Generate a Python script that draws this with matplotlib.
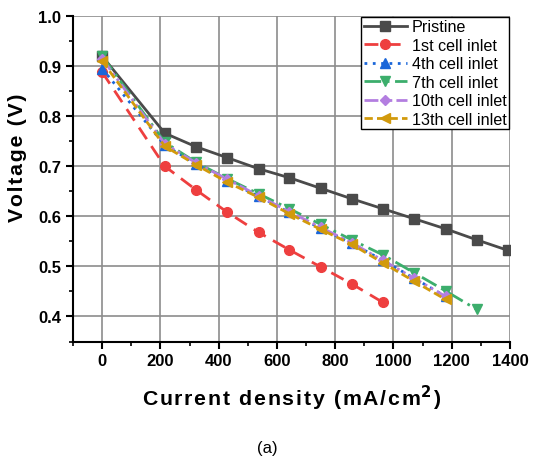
import matplotlib
matplotlib.use("Agg")
import matplotlib.pyplot as plt
from matplotlib.ticker import MultipleLocator

plt.rcParams['font.family'] = ['Liberation Sans', 'DejaVu Sans']

current_pristine = [0, 215, 322, 430, 537, 643, 750, 857, 964, 1072, 1179, 1286, 1393]
v_pristine = [0.92, 0.766, 0.739, 0.717, 0.695, 0.677, 0.656, 0.635, 0.615, 0.595, 0.575, 0.553, 0.532]

current_1st = [0, 215, 322, 430, 537, 643, 750, 857, 964]
v_1st = [0.888, 0.700, 0.653, 0.608, 0.568, 0.533, 0.499, 0.465, 0.428]

current_4th = [0, 215, 322, 430, 537, 643, 750, 857, 964, 1072, 1179]
v_4th = [0.895, 0.742, 0.705, 0.671, 0.640, 0.608, 0.576, 0.546, 0.512, 0.476, 0.440]

current_7th = [0, 215, 322, 430, 537, 643, 750, 857, 964, 1072, 1179, 1286]
v_7th = [0.920, 0.748, 0.708, 0.675, 0.645, 0.615, 0.584, 0.553, 0.523, 0.487, 0.451, 0.414]

current_10th = [0, 215, 322, 430, 537, 643, 750, 857, 964, 1072, 1179]
v_10th = [0.915, 0.745, 0.707, 0.674, 0.641, 0.609, 0.578, 0.547, 0.512, 0.476, 0.440]

current_13th = [0, 215, 322, 430, 537, 643, 750, 857, 964, 1072, 1179]
v_13th = [0.910, 0.740, 0.703, 0.668, 0.638, 0.605, 0.574, 0.544, 0.507, 0.470, 0.434]

labels = ["Pristine", "1st cell inlet", "4th cell inlet", "7th cell inlet", "10th cell inlet", "13th cell inlet"]

fig = plt.figure(figsize=(5.34, 4.6), dpi=100)
ax = fig.add_axes([0.1367, 0.2554, 0.955 - 0.1367, 0.963 - 0.2554])

ax.plot(current_pristine, v_pristine, color='#4a4a4a', ls='-', lw=2, marker='s', ms=7, label=labels[0], zorder=3)
ax.plot(current_1st, v_1st, color='#ee3f3f', ls=(0, (5, 3)), lw=2, marker='o', ms=7, label=labels[1], zorder=3)
ax.plot(current_4th, v_4th, color='#1a66d9', ls=(0, (1, 2)), lw=2, marker='^', ms=7, label=labels[2], zorder=3)
ax.plot(current_7th, v_7th, color='#3cae6c', ls=(0, (6, 2, 1, 2)), lw=2, marker='v', ms=7, label=labels[3], zorder=3)
ax.plot(current_10th, v_10th, color='#b37ee0', ls=(0, (5, 1.5, 1, 1.5, 1, 1.5)), lw=2, marker='D', ms=5.5, label=labels[4], zorder=3)
ax.plot(current_13th, v_13th, color='#d29a0c', ls=(0, (3, 1.5)), lw=2, marker='<', ms=7, label=labels[5], zorder=3)

ax.set_xlim(-100, 1400)
ax.set_ylim(0.35, 1.0)
ax.xaxis.set_major_locator(MultipleLocator(200))
ax.xaxis.set_minor_locator(MultipleLocator(100))
ax.yaxis.set_major_locator(MultipleLocator(0.1))
ax.yaxis.set_minor_locator(MultipleLocator(0.05))
ax.yaxis.set_major_formatter(matplotlib.ticker.FormatStrFormatter('%.1f'))
ax.grid(True, which='major', color='#8c8c8c', lw=1.2)
ax.set_axisbelow(True)
for s in ['top', 'right']:
    ax.spines[s].set_visible(False)
for s in ['left', 'bottom']:
    ax.spines[s].set_linewidth(1.5)
ax.tick_params(which='major', direction='out', length=5, width=1.5, labelsize=12)
ax.tick_params(which='minor', direction='out', length=3, width=1.2)
for t in ax.get_xticklabels() + ax.get_yticklabels():
    t.set_fontweight('bold')

hs = '\u200a'
xlab = hs.join('Current density (mA/cm') + '$^{\\mathbf{2}}$' + hs + ')'
ylab = hs.join('Voltage (V)')
ax.set_xlabel(xlab, fontsize=15.3, fontweight='bold')
ax.set_ylabel(ylab, fontsize=15.3, fontweight='bold')
ax.xaxis.label.set_va('baseline')
ax.xaxis.set_label_coords(0.501, -0.197)
ax.yaxis.set_label_coords(-0.105, 0.567)

leg = ax.legend(loc='upper right', fontsize=11.6, frameon=True, fancybox=False, edgecolor='black',
                borderpad=0.15, labelspacing=0.22, handlelength=2.7, handletextpad=0.3,
                borderaxespad=0.05, framealpha=1)
leg.get_frame().set_linewidth(1.0)

fig.text(0.5, 0.024, '(a)', ha='center', va='center', fontsize=12)

fig.savefig('out.png', dpi=100)
